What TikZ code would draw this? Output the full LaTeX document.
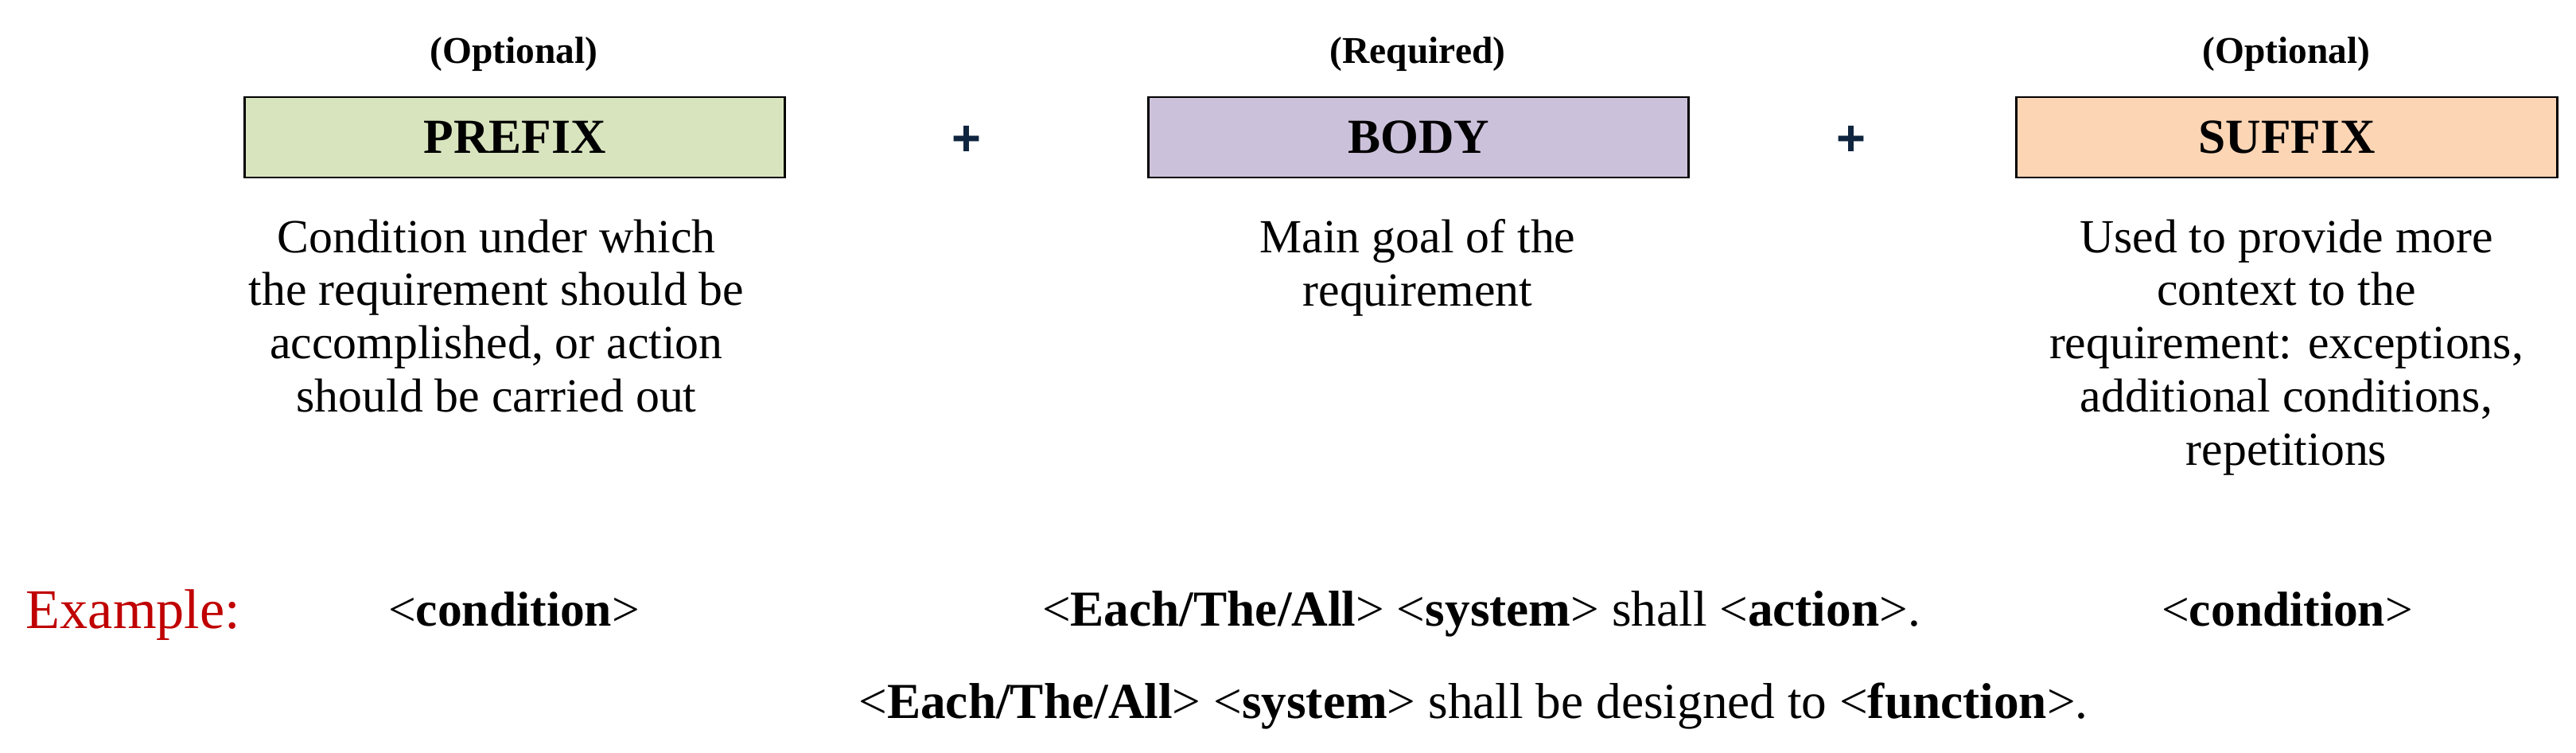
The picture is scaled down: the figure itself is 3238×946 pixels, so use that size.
\documentclass[tikz,border=0pt]{standalone}
\usepackage{fontspec}
\setmainfont{Liberation Serif}
\newfontfamily\plusfont{Liberation Sans}
\definecolor{prefixfill}{RGB}{216,228,190}
\definecolor{bodyfill}{RGB}{204,193,218}
\definecolor{suffixfill}{RGB}{252,213,181}
\definecolor{plusnavy}{RGB}{15,36,62}
\definecolor{exred}{RGB}{192,0,0}
\tikzset{
  tagtext/.style={font=\fontsize{13.5}{16}\selectfont\bfseries, anchor=base, inner sep=0pt},
  partbox/.style={draw=black, line width=0.8pt, minimum width=6.79cm, minimum height=1.01cm,
    inner sep=0pt, font=\fontsize{17.5}{20}\selectfont\bfseries},
  desc/.style={font=\fontsize{17}{19}\selectfont, align=center, anchor=north, inner sep=0pt},
  plussign/.style={font=\fontsize{18}{20}\plusfont\bfseries\selectfont, text=plusnavy, anchor=base, inner sep=0pt},
  extext/.style={font=\fontsize{17.5}{20}\selectfont, anchor=base, inner sep=0pt},
  exline/.style={font=\fontsize{18}{21}\selectfont, anchor=base, inner sep=0pt},
}
\begin{document}
\begin{tikzpicture}[x=0.01cm,y=-0.01cm]
\useasboundingbox (0,0) rectangle (3238,946);
% tags
\node[tagtext] (tagpre) at (646,80) {(Optional)};
\node[tagtext] (tagbody) at (1782,80) {(Required)};
\node[tagtext] (tagsuf) at (2874,80) {(Optional)};
% boxes
\node[partbox, fill=prefixfill] (prefix) at (647,172.5) {PREFIX};
\node[partbox, fill=bodyfill] (body) at (1783,172.5) {BODY};
\node[partbox, fill=suffixfill] (suffix) at (2874.5,172.5) {SUFFIX};
% plus signs
\node[plussign] (plus1) at (1215,196) {+};
\node[plussign] (plus2) at (2327,196) {+};
% descriptions
\node[desc] (descpre) at (624,275) {Condition under which\\the requirement should be\\accomplished, or action\\should be carried out};
\node[desc] (descbody) at (1782,275) {Main goal of the\\requirement};
\node[desc] (descsuf) at (2874,275) {Used to provide more\\context to the\\requirement: exceptions,\\additional conditions,\\repetitions};
% example
\node[font=\fontsize{20}{24}\selectfont, text=exred, anchor=base west, inner sep=0pt] (exlabel) at (32,789) {Example:};
\node[extext] (excondpre) at (646,786) {\textless\textbf{condition}\textgreater};
\node[exline] (exbody1) at (1862,786) {\textless\textbf{Each/The/All}\textgreater{} \textless\textbf{system}\textgreater{} shall \textless\textbf{action}\textgreater.};
\node[extext] (excondsuf) at (2875,786) {\textless\textbf{condition}\textgreater};
\node[exline] (exbody2) at (1852,902) {\textless\textbf{Each/The/All}\textgreater{} \textless\textbf{system}\textgreater{} shall be designed to \textless\textbf{function}\textgreater.};
\end{tikzpicture}
\end{document}
